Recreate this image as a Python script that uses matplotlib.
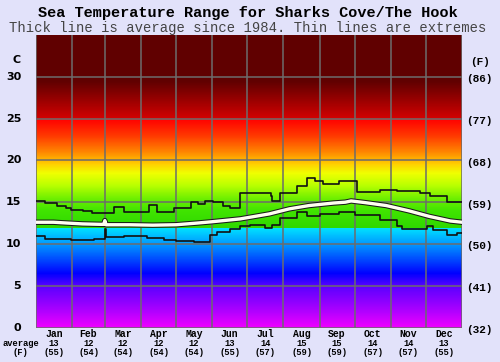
import numpy as np
import matplotlib.pyplot as plt
import matplotlib.patheffects as pe
from matplotlib.colors import LinearSegmentedColormap
from matplotlib.transforms import blended_transform_factory

months = ['Jan', 'Feb', 'Mar', 'Apr', 'May', 'Jun',
          'Jul', 'Aug', 'Sep', 'Oct', 'Nov', 'Dec']
month_start = [0, 31, 59, 90, 120, 151, 181, 212, 243, 273, 304, 334, 365]
avg_c = [13, 12, 12, 12, 12, 13, 14, 15, 15, 14, 14, 13]
avg_f = [55, 54, 54, 54, 54, 55, 57, 59, 59, 57, 57, 55]

c_ticks = [0, 5, 10, 15, 20, 25, 30]
f_labels = ['(32)', '(41)', '(50)', '(59)', '(68)', '(77)', '(86)']

# average (thick line), day of year -> deg C
avg_day = [0, 15, 27, 40, 55, 58, 59, 60, 80, 100, 120, 138, 150, 175,
           200, 217, 234, 255, 265, 270, 282, 300, 320, 337, 355, 365]
avg_temp = [12.6, 12.6, 12.5, 12.4, 12.35, 12.35, 12.8, 12.3, 12.3, 12.25,
            12.3, 12.5, 12.65, 13.0, 13.6, 14.2, 14.6, 14.9, 15.0, 15.15,
            14.95, 14.6, 13.95, 13.3, 12.75, 12.6]

# extremes (thin lines), step start day -> deg C
max_day = [0, 8, 18, 26, 30, 40, 48, 67, 75, 97, 104, 118, 133, 139, 145,
           152, 160, 166, 175, 201, 202, 209, 224, 232, 239, 246, 260, 275,
           295, 309, 329, 338, 352, 365]
max_temp = [15.1, 14.9, 14.5, 14.3, 14.1, 13.9, 13.7, 14.4, 13.8, 14.7, 13.8,
            14.3, 15.0, 14.8, 15.1, 15.0, 14.5, 14.3, 16.1, 15.7, 15.2, 16.1,
            16.9, 17.9, 17.5, 17.2, 17.5, 16.2, 16.5, 16.3, 16.1, 15.7, 15.0,
            15.0]

min_day = [0, 8, 30, 50, 59, 60, 75, 95, 110, 120, 135, 149, 155, 166, 175,
           183, 196, 202, 209, 224, 232, 243, 260, 273, 295, 309, 314, 335,
           340, 352, 361, 365]
min_temp = [10.9, 10.6, 10.5, 10.6, 11.8, 10.8, 10.9, 10.7, 10.5, 10.3, 10.2,
            11.1, 11.4, 11.8, 12.1, 12.3, 11.9, 12.3, 13.1, 13.8, 13.3, 13.6,
            13.8, 13.5, 12.9, 12.2, 11.8, 12.1, 11.7, 11.1, 11.3, 11.3]

bg = '#e2e2fa'
mono = 'Liberation Mono'

# colour band behind the lines
stops = [(0, '#f000ff'), (2.5, '#a000ff'), (5, '#5a00ff'), (6.5, '#0000ff'),
         (8.5, '#0058ff'), (10, '#0098ff'), (11.99, '#00e4ff'), (12.0, '#30d800'),
         (14, '#40e400'), (15.5, '#70f000'), (17, '#b8ff00'), (18.5, '#f0ff00'),
         (19.5, '#ffd400'), (21, '#ff8800'), (23, '#ff3800'), (24.99, '#ff0000'),
         (25.0, '#d40000'), (27, '#a00000'), (29.5, '#600000'), (35, '#600000')]
cmap = LinearSegmentedColormap.from_list('sea', [(v / 35, c) for v, c in stops], N=1024)

fig = plt.figure(figsize=(5, 3.62), dpi=100, facecolor=bg)
ax = fig.add_axes([0.072, 0.0953, 0.852, 0.8077])
ax.imshow(np.linspace(0, 35, 1400).reshape(-1, 1), origin='lower',
          extent=[0, 365, 0, 35], aspect='auto', cmap=cmap, vmin=0, vmax=35,
          interpolation='nearest', zorder=0)

ax.set_xlim(0, 365)
ax.set_ylim(0, 35)
ax.set_xticks(month_start)
ax.set_xticklabels([])
ax.set_yticks(c_ticks)
ax.set_yticklabels([])
ax.tick_params(length=0)
ax.grid(True, color='#6c6c6c', lw=1.1, zorder=1)
for s in ax.spines.values():
    s.set_visible(False)

ax.step(max_day, max_temp, where='post', color='#111111', lw=1.2, zorder=3)
ax.step(min_day, min_temp, where='post', color='#111111', lw=1.2, zorder=3)
ax.plot(avg_day, avg_temp, color='#fffff0', lw=2.4, zorder=4,
        path_effects=[pe.Stroke(linewidth=3.9, foreground='#1a1a1a'), pe.Normal()])

# left and right scale labels
for v, f in zip(c_ticks, f_labels):
    ax.text(-0.035, v / 35, str(v), transform=ax.transAxes, ha='right', va='center',
            fontsize=8, fontweight='bold', family='DejaVu Sans')
    ax.text(1.01, v / 35 - 0.008, f, transform=ax.transAxes, ha='left', va='center',
            fontsize=8, fontweight='bold', family=mono)
fig.text(17 / 500, 1 - 60 / 362, 'C', ha='center', va='center', fontsize=8,
         fontweight='bold', family='DejaVu Sans')
fig.text(480 / 500, 1 - 62 / 362, '(F)', ha='center', va='center', fontsize=8,
         fontweight='bold', family=mono)

# month names and monthly averages
tr = blended_transform_factory(ax.transData, fig.transFigure)
for i, m in enumerate(months):
    xm = (month_start[i] + month_start[i + 1]) / 2
    ax.text(xm, 1 - 334 / 362, m, transform=tr, ha='center', va='center',
            fontsize=7, fontweight='bold', family=mono)
    ax.text(xm, 1 - 343 / 362, str(avg_c[i]), transform=tr, ha='center', va='center',
            fontsize=6.3, fontweight='bold', family=mono)
    ax.text(xm, 1 - 352.5 / 362, '(%d)' % avg_f[i], transform=tr, ha='center',
            va='center', fontsize=6.3, fontweight='bold', family=mono)
fig.text(21 / 500, 1 - 343 / 362, 'average', ha='center', va='center',
         fontsize=6.3, fontweight='bold', family=mono)
fig.text(20 / 500, 1 - 352.5 / 362, '(F)', ha='center', va='center',
         fontsize=6.3, fontweight='bold', family=mono)

fig.text(0.496, 1 - 13 / 362, 'Sea Temperature Range for Sharks Cove/The Hook',
         ha='center', va='center', fontsize=11, fontweight='bold', family=mono)
fig.text(0.496, 1 - 28 / 362,
         'Thick line is average since 1984. Thin lines are extremes',
         ha='center', va='center', fontsize=10, color='#444444', family=mono)

fig.savefig('out.png', dpi=100, facecolor=bg)
